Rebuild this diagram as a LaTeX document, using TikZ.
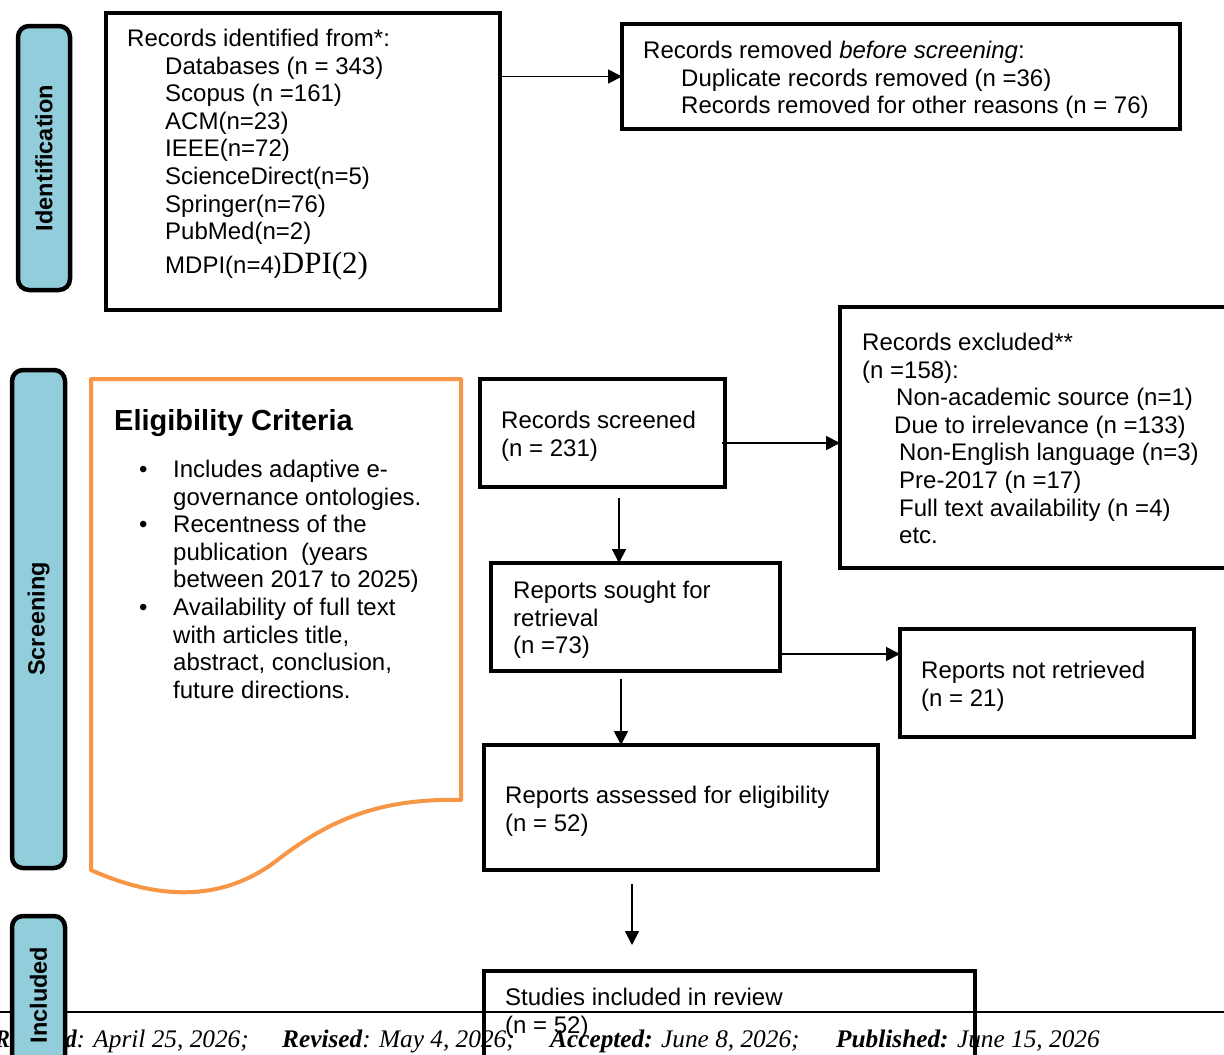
\documentclass[tikz,border=0pt]{standalone}
\usepackage{fontspec}
\setmainfont{Liberation Sans}
\newfontfamily\serifff{Liberation Serif}
\usetikzlibrary{arrows.meta,calc}
\definecolor{sideblue}{RGB}{146,205,220}
\definecolor{eligorange}{RGB}{247,150,70}
\begin{document}
\begin{tikzpicture}[x=1pt,y=-1pt,
  box/.style={draw=black, line width=4pt, rectangle, inner sep=0pt, outer sep=0pt, anchor=north west},
  side/.style={draw=black, line width=4.5pt, fill=sideblue, rounded corners=11pt, inner sep=0pt, outer sep=0pt, anchor=north west},
  arr/.style={draw=black, line width=1.8pt, -{Triangle[length=14pt,width=14pt]}},
  txt/.style={anchor=base west, inner sep=0pt, align=left, font=\fontsize{24}{27.6}\selectfont},
  lab/.style={rotate=90, inner sep=0pt, font=\fontsize{23.5}{27}\selectfont\bfseries},
  foot/.style={inner sep=0pt, font=\serifff\fontsize{25.3}{28}\selectfont\itshape}
]
\clip (0,0) rectangle (1224,1055);
\fill[white] (0,0) rectangle (1224,1055);

% footer (drawn first, partly covered)
\draw[line width=2pt] (0,1012) coordinate (fl) -- (1224,1012) coordinate (fr);
\node[foot, anchor=base east] (f1) at (249,1047) {\scalebox{0.88}[1]{\textbf{Received}}: April 25, 2026;};
\node[foot, anchor=base west] (f2) at (282,1047) {\textbf{Revised}: May 4, 2026;};
\node[foot, anchor=base west] (f3) at (550,1047) {\textbf{Accepted:} June 8, 2026;};
\node[foot, anchor=base west] (f4) at (836,1047) {\textbf{Published:} June 15, 2026};

% side labels
\node[side, minimum width=52, minimum height=264] (s1) at (18,26) {};
\node[lab] (l1) at (s1.center) {Identification};
\node[side, minimum width=53, minimum height=498] (s2) at (12,370) {};
\node[lab] (l2) at (s2.center) {Screening};
\node[side, minimum width=53, minimum height=200] (s3) at (12,916) {};
\node[lab] (l3) at (38.5,995) {Included};

% boxes
\node[box, minimum width=394, minimum height=297] (ident) at (106,13) {};
\node[box, minimum width=558, minimum height=105] (removed) at (622,24) {};
\node[box, minimum width=245, minimum height=108] (screened) at (480,379) {};
\node[box, minimum width=420, minimum height=261] (excluded) at (840,307) {};
\node[box, minimum width=289, minimum height=108] (sought) at (491,563) {};
\node[box, minimum width=294, minimum height=108] (notret) at (900,629) {};
\node[box, minimum width=394, minimum height=125] (assessed) at (484,745) {};
\node[box, minimum width=491, minimum height=150] (studies) at (484,971) {};

% texts (anchor = baseline of the last line)
\node[txt] (t1) at (127,273.3) {Records identified from*:\\
\hspace*{38pt}Databases (n = 343)\\
\hspace*{38pt}Scopus (n =161)\\
\hspace*{38pt}ACM(n=23)\\
\hspace*{38pt}IEEE(n=72)\\
\hspace*{38pt}ScienceDirect(n=5)\\
\hspace*{38pt}Springer(n=76)\\
\hspace*{38pt}PubMed(n=2)\\[6pt]
\hspace*{38pt}MDPI(n=4){\serifff\fontsize{31}{32}\selectfont DPI(2)}};

\node[txt] (t2) at (643,113.7) {Records removed \textit{before screening}:\\
\hspace*{38pt}Duplicate records removed (n =36)\\
\hspace*{38pt}Records removed for other reasons (n = 76)};

\node[txt] (t3) at (501,456.1) {Records screened\\(n = 231)};

\node[txt] (t4) at (862,543.7) {Records excluded**\\
(n =158):\\
\hspace*{34pt}Non-academic source (n=1)\\
\hspace*{32pt}Due to irrelevance (n =133)\\
\hspace*{37pt}Non-English language (n=3)\\
\hspace*{37pt}Pre-2017 (n =17)\\
\hspace*{37pt}Full text availability (n =4)\\
\hspace*{37pt}etc.};

\node[txt] (t5) at (513,653.7) {Reports sought for\\retrieval\\(n =73)};
\node[txt] (t6) at (921,706.1) {Reports not retrieved\\(n = 21)};
\node[txt] (t7) at (505,831.1) {Reports assessed for eligibility\\(n = 52)};
\node[txt] (t8) at (505,1033.1) {Studies included in review\\(n = 52)};

% eligibility criteria document shape
\draw[eligorange, line width=4pt, line join=round]
  (91,379) -- (461,379) -- (461,800)
  .. controls (380,798) and (330,820) .. (280,858)
  .. controls (240,890) and (180,910) .. (91,870) -- cycle;
\node[anchor=base west, inner sep=0pt, font=\fontsize{29}{32}\selectfont\bfseries] (etitle) at (114,430) {Eligibility Criteria};
\node[txt] (elist) at (139,698.3) {%
\makebox[34pt][l]{\textbullet}Includes adaptive e-\\
\hspace*{34pt}governance ontologies.\\
\makebox[34pt][l]{\textbullet}Recentness of the\\
\hspace*{34pt}publication\ \ (years\\
\hspace*{34pt}between 2017 to 2025)\\
\makebox[34pt][l]{\textbullet}Availability of full text\\
\hspace*{34pt}with articles title,\\
\hspace*{34pt}abstract, conclusion,\\
\hspace*{34pt}future directions.};

% connectors
\draw[arr] (ident.east |- removed.west) -- (removed.west);
\draw[arr] ([xshift=-3pt,yshift=-10pt]screened.east) -- ([yshift=-10pt]screened.east -| excluded.west);
\draw[arr] ([xshift=16.5pt,yshift=-11pt]screened.south) -- ([xshift=16.5pt]screened.south |- sought.north);
\draw[arr] ([yshift=-37pt]sought.east) -- ([yshift=-37pt]sought.east -| notret.west);
\draw[arr] ([xshift=-14.5pt,yshift=-8pt]sought.south) -- ([xshift=-14.5pt]sought.south |- assessed.north);
\coordinate (aend) at ([xshift=-49pt,yshift=26pt]studies.north -| assessed.south);
\draw[arr] ([xshift=-49pt,yshift=-14pt]assessed.south) -- (aend);
\end{tikzpicture}
\end{document}
